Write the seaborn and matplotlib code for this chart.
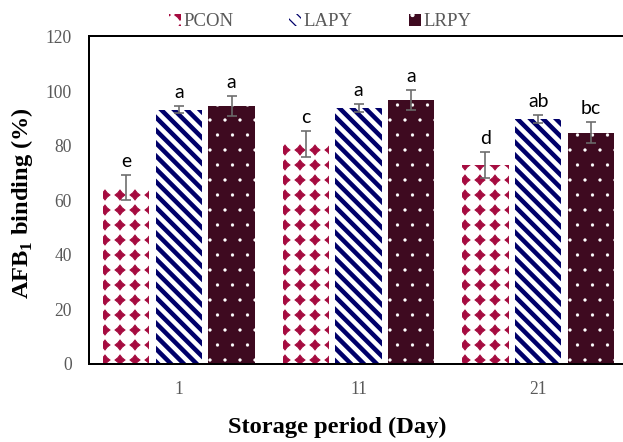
import numpy as np
import pandas as pd
import matplotlib
matplotlib.use("Agg")
import matplotlib.pyplot as plt
from matplotlib import hatch as mhatch
from matplotlib.path import Path
import seaborn as sns

# ---- data -------------------------------------------------------------
days = ["1", "11", "21"]
treatments = ["PCON", "LAPY", "LRPY"]
pcon_mean = [64.7, 80.5, 72.9]
lapy_mean = [93.2, 93.9, 89.8]
lrpy_mean = [94.5, 96.7, 84.8]
pcon_sd = [4.6, 4.8, 4.9]
lapy_sd = [1.3, 1.4, 1.4]
lrpy_sd = [3.6, 3.7, 3.75]
pcon_letters = ["e", "c", "d"]
lapy_letters = ["a", "a", "ab"]
lrpy_letters = ["a", "a", "bc"]
y_ticks = [0, 20, 40, 60, 80, 100, 120]

colors = {"PCON": "#A50B3F", "LAPY": "#00006A", "LRPY": "#3E0A20"}


# ---- custom hatch patterns ---------------------------------------------
class StarGridHatch(mhatch.HatchPatternBase):
    """Square grid of filled four-pointed stars, used for '*'."""
    size = 0.34

    def __init__(self, hatch, density):
        self.num_rows = hatch.count('*') * density
        star = Path.unit_regular_star(4, 0.62)
        self.shape_vertices = star.vertices
        self.shape_codes = star.codes
        n = self.num_rows + 1
        self.num_vertices = n * n * len(self.shape_vertices) if self.num_rows else 0

    def set_vertices_and_codes(self, vertices, codes):
        step = 1.0 / self.num_rows
        shape = self.shape_vertices * step * self.size
        vp, cp = [], []
        for r in range(self.num_rows + 1):
            for c in range(self.num_rows + 1):
                vp.append(shape + [c * step, r * step])
                cp.append(self.shape_codes)
        np.concatenate(vp, out=vertices)
        np.concatenate(cp, out=codes)


class DenseSouthEastHatch(mhatch.HatchPatternBase):
    """Back-diagonal stripes, 7 lines per backslash."""

    def __init__(self, hatch, density):
        self.num_lines = int((hatch.count('\\') + hatch.count('x')
                              + hatch.count('X')) * 7)
        self.num_vertices = (self.num_lines + 1) * 2 if self.num_lines else 0

    def set_vertices_and_codes(self, vertices, codes):
        steps = np.linspace(-0.5, 0.5, self.num_lines + 1)
        vertices[0::2, 0] = 0.0 + steps
        vertices[0::2, 1] = 1.0 + steps
        vertices[1::2, 0] = 1.0 + steps
        vertices[1::2, 1] = 0.0 + steps
        codes[0::2] = Path.MOVETO
        codes[1::2] = Path.LINETO


_types = mhatch._hatch_types
_types[_types.index(mhatch.Stars)] = StarGridHatch
_types[_types.index(mhatch.SouthEastHatch)] = DenseSouthEastHatch

# ---- long-form table -----------------------------------------------------
df = pd.DataFrame({
    "day": days * 3,
    "treatment": np.repeat(treatments, len(days)),
    "binding": pcon_mean + lapy_mean + lrpy_mean,
})
sds = {"PCON": pcon_sd, "LAPY": lapy_sd, "LRPY": lrpy_sd}
letters = {"PCON": pcon_letters, "LAPY": lapy_letters, "LRPY": lrpy_letters}

# ---- figure ----------------------------------------------------------------
sns.set_theme(style="white")
plt.rcParams["font.family"] = ["Liberation Serif", "DejaVu Serif"]
plt.rcParams["mathtext.fontset"] = "custom"
plt.rcParams["mathtext.rm"] = "Liberation Serif"
plt.rcParams["mathtext.bf"] = "Liberation Serif:bold"

DPI = 90
fig = plt.figure(figsize=(623 / DPI, 442 / DPI), dpi=DPI)
ax = fig.add_axes([89 / 623, 78 / 442, 539 / 623, 327.5 / 442])

sns.barplot(data=df, x="day", y="binding", hue="treatment", order=days,
            hue_order=treatments, palette=colors, errorbar=None,
            width=0.88, gap=0.117, legend=False, ax=ax)

styles = {
    "PCON": dict(face="white", edge=colors["PCON"], hatch="*", hlw=0.7),
    "LAPY": dict(face="white", edge=colors["LAPY"], hatch="\\\\", hlw=3.6),
    "LRPY": dict(face=colors["LRPY"], edge="white", hatch=".", hlw=0.2),
}

handles = []
for name, cont in zip(treatments, ax.containers):
    st = styles[name]
    xs, ys = [], []
    for bar in cont:
        bar.set_facecolor(st["face"])
        bar.set_edgecolor(st["edge"])
        bar.set_hatch(st["hatch"])
        bar.set_linewidth(0)
        if hasattr(bar, "set_hatch_linewidth"):
            bar.set_hatch_linewidth(st["hlw"])
        xs.append(bar.get_x() + bar.get_width() / 2)
        ys.append(bar.get_height())
    ax.errorbar(xs, ys, yerr=sds[name], fmt="none", ecolor="#6b6b6b",
                elinewidth=1.3, capsize=4, capthick=1.3, zorder=5)
    for x, y, sd, lab in zip(xs, ys, sds[name], letters[name]):
        ax.annotate(lab, (x, y + sd), xytext=(0, 6.4), textcoords="offset points",
                    ha="center", va="baseline", fontsize=15.5,
                    family=["Lato", "DejaVu Sans"], color="black")
    handles.append(cont[0])

ax.set_ylim(0, 120)
ax.set_xlim(-0.5, 2.5)
ax.set_yticks(y_ticks)
ax.set_yticklabels([str(t) for t in y_ticks])
ax.tick_params(axis="both", length=0, labelsize=14, labelcolor="#595959")
ax.tick_params(axis="y", pad=13.6)
ax.tick_params(axis="x", pad=14)

for side in ["left", "bottom", "top"]:
    ax.spines[side].set_visible(True)
    ax.spines[side].set_color("black")
    ax.spines[side].set_linewidth(1.6)
ax.spines["right"].set_visible(False)

ax.set_xlabel("Storage period (Day)", fontsize=19.5, fontweight="bold",
              va="center", color="black")
ax.xaxis.set_label_coords(0.46, -0.195)
ax.set_ylabel(r"AFB$_{\mathbf{1}}$ binding (%)", fontsize=19.5,
              fontweight="bold", va="center", color="black")
ax.yaxis.set_label_coords(-0.124, 0.49)

fig.legend(handles, treatments, loc="center", bbox_to_anchor=(320 / 623, 1 - 22 / 442),
           ncol=3, frameon=False, fontsize=15, handlelength=0.64,
           handleheight=0.55, handletextpad=0.12, columnspacing=3.0,
           borderpad=0, labelcolor="#595959")

fig.savefig("out.png", dpi=DPI)
